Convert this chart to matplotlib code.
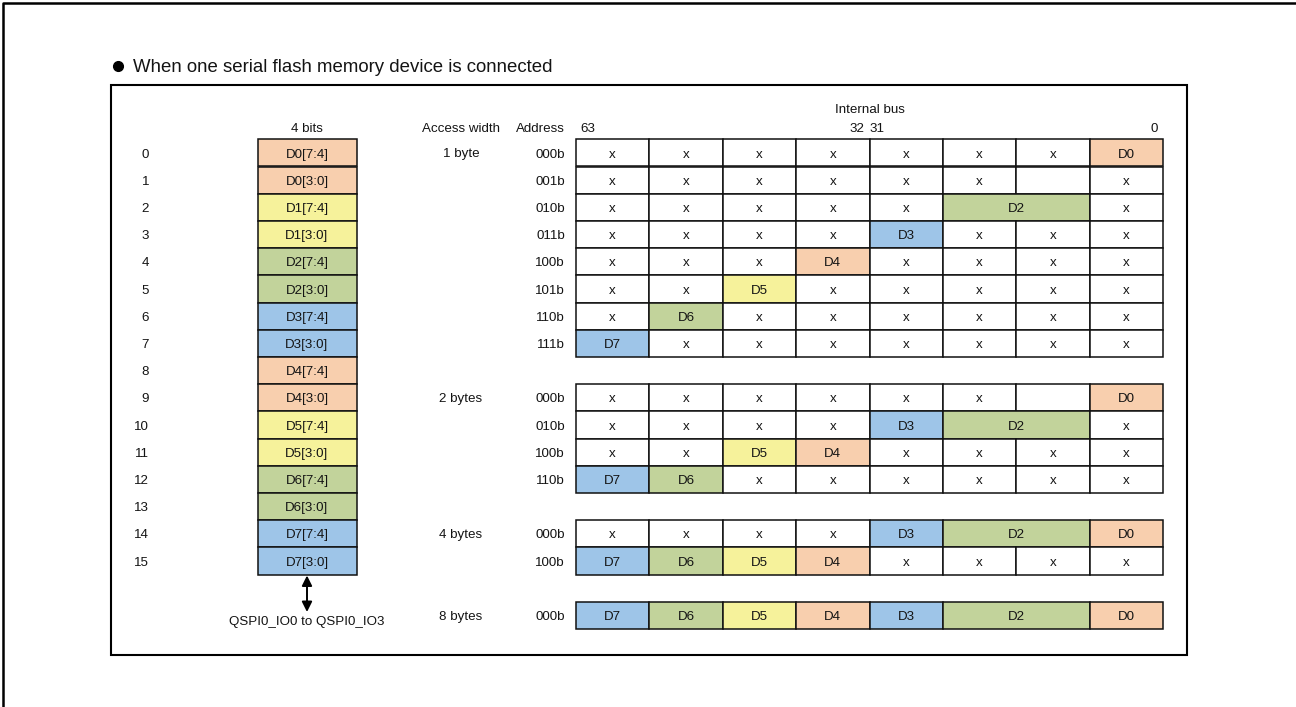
import matplotlib
matplotlib.use("Agg")
import matplotlib.pyplot as plt
from matplotlib.patches import Rectangle

plt.rcParams['font.family'] = ['Liberation Sans', 'DejaVu Sans']

# ---------------- data ----------------
title = "When one serial flash memory device is connected"
slot_numbers = ["0", "1", "2", "3", "4", "5", "6", "7",
                "8", "9", "10", "11", "12", "13", "14", "15"]
nibble_labels = ["D0[7:4]", "D0[3:0]", "D1[7:4]", "D1[3:0]",
                 "D2[7:4]", "D2[3:0]", "D3[7:4]", "D3[3:0]",
                 "D4[7:4]", "D4[3:0]", "D5[7:4]", "D5[3:0]",
                 "D6[7:4]", "D6[3:0]", "D7[7:4]", "D7[3:0]"]
nibble_bytes = ["D0", "D0", "D1", "D1", "D2", "D2", "D3", "D3",
                "D4", "D4", "D5", "D5", "D6", "D6", "D7", "D7"]

access_widths = ["1 byte", "2 bytes", "4 bytes", "8 bytes"]

addresses_1byte = ["000b", "001b", "010b", "011b", "100b", "101b", "110b", "111b"]
rows_1byte = [
    ["x", "x", "x", "x", "x", "x", "x", "D0"],
    ["x", "x", "x", "x", "x", "x", "", "x"],
    ["x", "x", "x", "x", "x", "D2", "D2", "x"],
    ["x", "x", "x", "x", "D3", "x", "x", "x"],
    ["x", "x", "x", "D4", "x", "x", "x", "x"],
    ["x", "x", "D5", "x", "x", "x", "x", "x"],
    ["x", "D6", "x", "x", "x", "x", "x", "x"],
    ["D7", "x", "x", "x", "x", "x", "x", "x"],
]
addresses_2byte = ["000b", "010b", "100b", "110b"]
rows_2byte = [
    ["x", "x", "x", "x", "x", "x", "", "D0"],
    ["x", "x", "x", "x", "D3", "D2", "D2", "x"],
    ["x", "x", "D5", "D4", "x", "x", "x", "x"],
    ["D7", "D6", "x", "x", "x", "x", "x", "x"],
]
addresses_4byte = ["000b", "100b"]
rows_4byte = [
    ["x", "x", "x", "x", "D3", "D2", "D2", "D0"],
    ["D7", "D6", "D5", "D4", "x", "x", "x", "x"],
]
addresses_8byte = ["000b"]
rows_8byte = [
    ["D7", "D6", "D5", "D4", "D3", "D2", "D2", "D0"],
]

byte_colors = {"D0": "#F8CFAE", "D1": "#F6F29B", "D2": "#C2D39B", "D3": "#9EC5E8",
               "D4": "#F8CFAE", "D5": "#F6F29B", "D6": "#C2D39B", "D7": "#9EC5E8"}

header_4bits = "4 bits"
header_access = "Access width"
header_address = "Address"
header_bus = "Internal bus"
bit_63, bit_32, bit_31, bit_0 = "63", "32", "31", "0"
io_label = "QSPI0_IO0 to QSPI0_IO3"

# ---------------- layout ----------------
W, H = 1296, 707
fig = plt.figure(figsize=(W / 100, H / 100), dpi=100)
ax = fig.add_axes([0, 0, 1, 1])
ax.set_xlim(0, W)
ax.set_ylim(H, 0)
ax.axis("off")

FS = 9.6
LC = "#111111"
TC = "#141414"

y_top = 139.3
row_h = 27.2
box_x0, box_x1 = 257.5, 356.5
grid_x0, grid_x1 = 576.0, 1163.0
ncol = 8
col_w = (grid_x1 - grid_x0) / ncol


def row_center(i):
    return y_top + (i + 0.5) * row_h


def txt(x, yc, s, ha="center", size=FS):
    cap = 0.716 * size * 100 / 72
    ax.text(x, yc + cap / 2, s, ha=ha, va="baseline", fontsize=size, color=TC)


# frames
ax.plot([3, 3, W], [H, 3, 3], color="black", lw=1.8, solid_capstyle="butt")
ax.add_patch(Rectangle((110.5, 85), 1187 - 110.5, 654.5 - 85, fill=False,
                       edgecolor="black", lw=1.5))

# title
ax.plot([117.5], [65.5], marker="o", markersize=7.0, color="black")
txt(133, 65.2, title, ha="left", size=13.4)

# headers
hy = 127
txt((box_x0 + box_x1) / 2, hy, header_4bits)
txt(461, hy, header_access)
txt(565, hy, header_address, ha="right")
txt(580, hy, bit_63, ha="left")
txt(864, hy, bit_32, ha="right")
txt(870, hy, bit_31, ha="left")
txt(1158, hy, bit_0, ha="right")
txt(grid_x0 + 4 * col_w, 108, header_bus)

# left nibble column
for i, (num, lab, byte) in enumerate(zip(slot_numbers, nibble_labels, nibble_bytes)):
    yt = y_top + i * row_h
    ax.add_patch(Rectangle((box_x0, yt), box_x1 - box_x0, row_h,
                           facecolor=byte_colors[byte], edgecolor=LC, lw=1.1))
    txt(149, row_center(i), num, ha="right")
    txt((box_x0 + box_x1) / 2, row_center(i), lab)

# arrow to IO pins
ax.annotate("", xy=(307, 575.5), xytext=(307, 612),
            arrowprops=dict(arrowstyle="<|-|>,head_length=0.6,head_width=0.3",
                            color="black", lw=1.4,
                            mutation_scale=10, shrinkA=0, shrinkB=0))
txt(307, 620.5, io_label)

# internal bus grid
groups = [(access_widths[0], addresses_1byte, rows_1byte),
          (access_widths[1], addresses_2byte, rows_2byte),
          (access_widths[2], addresses_4byte, rows_4byte),
          (access_widths[3], addresses_8byte, rows_8byte)]

slot = 0
for aw, addrs, rows in groups:
    txt(461, row_center(slot) - 0.5, aw)
    for addr, cells in zip(addrs, rows):
        yt = y_top + slot * row_h
        txt(565, row_center(slot), addr, ha="right")
        c = 0
        while c < ncol:
            lab = cells[c]
            span = 1
            if lab.startswith("D"):
                while c + span < ncol and cells[c + span] == lab:
                    span += 1
            fc = byte_colors.get(lab, "white")
            x0 = grid_x0 + c * col_w
            ax.add_patch(Rectangle((x0, yt), span * col_w, row_h,
                                   facecolor=fc, edgecolor=LC, lw=1.1))
            if lab:
                txt(x0 + span * col_w / 2, row_center(slot), lab)
            c += span
        slot += 1
    slot += 1

fig.savefig("out.png", dpi=100)
